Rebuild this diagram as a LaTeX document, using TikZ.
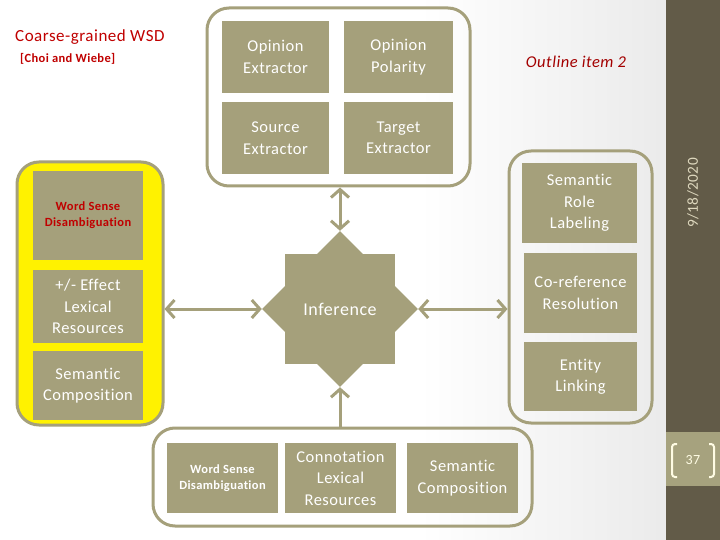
\documentclass[tikz,border=0pt]{standalone}
\usepackage{fontspec}
\setmainfont{Carlito}[Ligatures=NoCommon, LetterSpace=3]
\usetikzlibrary{arrows.meta,shapes.geometric}
\definecolor{boxol}{RGB}{165,160,123}
\definecolor{barcol}{RGB}{98,91,72}
\definecolor{bandcol}{RGB}{166,162,126}
\definecolor{titred}{RGB}{192,0,0}
\definecolor{datecol}{RGB}{222,216,190}
\definecolor{cream}{RGB}{255,252,228}
\begin{document}
\begin{tikzpicture}[x=1pt,y=-1pt,
  box/.style={fill=boxol, text=white, align=center, inner sep=0pt, font=\fontsize{16.5}{21.5}\selectfont},
  smallbox/.style={box, font=\bfseries\fontsize{12.5}{16}\selectfont},
  grp/.style={draw=boxol, line width=3pt, rounded corners=22pt, inner sep=0pt},
  conn/.style={draw=boxol, line width=3pt},
  >={Straight Barb[length=8pt,width=18pt]}]
\useasboundingbox (0,0) rectangle (720,540);
% background
\fill[white] (0,0) rectangle (420,540);
\shade[left color=white, right color=gray!16] (420,0) rectangle (666,540);
\fill[barcol] (666,0) rectangle (720,540);
\fill[bandcol] (666,432) rectangle (720,486);
% titles
\node[anchor=west, text=titred, font=\fontsize{17}{19}\selectfont, inner sep=0] (ttl) at (15,37) {Coarse-grained WSD};
\node[anchor=west, text=titred, font=\bfseries\fontsize{12.5}{14}\selectfont, inner sep=0] (cit) at (20,59) {[Choi and Wiebe]};
\node[text=titred!85!black, font=\itshape\fontsize{16.5}{18}\selectfont] (outl) at (576,62) {Outline item 2};
% top group
\node[grp, minimum width=263, minimum height=178] (topg) at (338.5,97) {};
\node[box, minimum width=107, minimum height=72] (oe) at (275.5,57) {Opinion\\Extractor};
\node[box, minimum width=109, minimum height=72] (op) at (398.5,57) {Opinion\\Polarity};
\node[box, minimum width=107, minimum height=72] (se) at (275.5,138) {Source\\Extractor};
\node[box, minimum width=109, minimum height=72] (te) at (398.5,138) {Target\\Extractor};
% left group
\node[grp, fill=yellow, minimum width=146, minimum height=263] (leftg) at (90,293.5) {};
\node[smallbox, text=titred, minimum width=110, minimum height=89] (wsda) at (88,215.5) {Word Sense\\Disambiguation};
\node[box, minimum width=110, minimum height=73] (eff) at (88,306.5) {+/- Effect\\Lexical\\Resources};
\node[box, minimum width=110, minimum height=69] (sca) at (88,385.5) {Semantic\\Composition};
% right group
\node[grp, minimum width=143, minimum height=272] (rightg) at (580.5,287) {};
\node[box, minimum width=115, minimum height=80] (srl) at (579.5,203) {Semantic\\Role\\Labeling};
\node[box, minimum width=113, minimum height=80] (cor) at (580.5,293) {Co-reference\\Resolution};
\node[box, minimum width=113, minimum height=69] (el) at (580.5,376.5) {Entity\\Linking};
% bottom group
\node[grp, minimum width=379, minimum height=98] (botg) at (342.5,477) {};
\node[smallbox, minimum width=111, minimum height=70] (wsdb) at (222.5,478) {Word Sense\\Disambiguation};
\node[box, minimum width=111, minimum height=70] (con) at (340.5,478) {Connotation\\Lexical\\Resources};
\node[box, minimum width=111, minimum height=70] (scb) at (462.5,478) {Semantic\\Composition};
% inference star
\node[diamond, fill=boxol, inner sep=0pt, minimum width=156, minimum height=156] (infd) at (340,309) {};
\node[box, minimum width=110, minimum height=110, font=\fontsize{18}{20}\selectfont] (inf) at (340,309) {Inference};
% connectors
\draw[conn, <->] (topg.south -| infd.north) -- (infd.north);
\draw[conn, <->] (infd.west -| leftg.east) -- (infd.west);
\draw[conn, <->] (infd.east -| rightg.west) -- (infd.east);
\draw[conn, ->] (botg.north -| infd.south) -- (infd.south);
% side bar texts
\node[rotate=90, text=datecol, font=\fontsize{15.3}{18}\selectfont] (date) at (693,193) {9/18/2020};
\node[text=cream, font=\fontsize{14}{15}\selectfont] (pg) at (693,460) {37};
\draw[cream, line width=2pt, rounded corners=3pt] (677,444) -- (672,444) -- (672,477) -- (677,477);
\draw[cream, line width=2pt, rounded corners=3pt] (709,444) -- (714,444) -- (714,477) -- (709,477);
\end{tikzpicture}
\end{document}
